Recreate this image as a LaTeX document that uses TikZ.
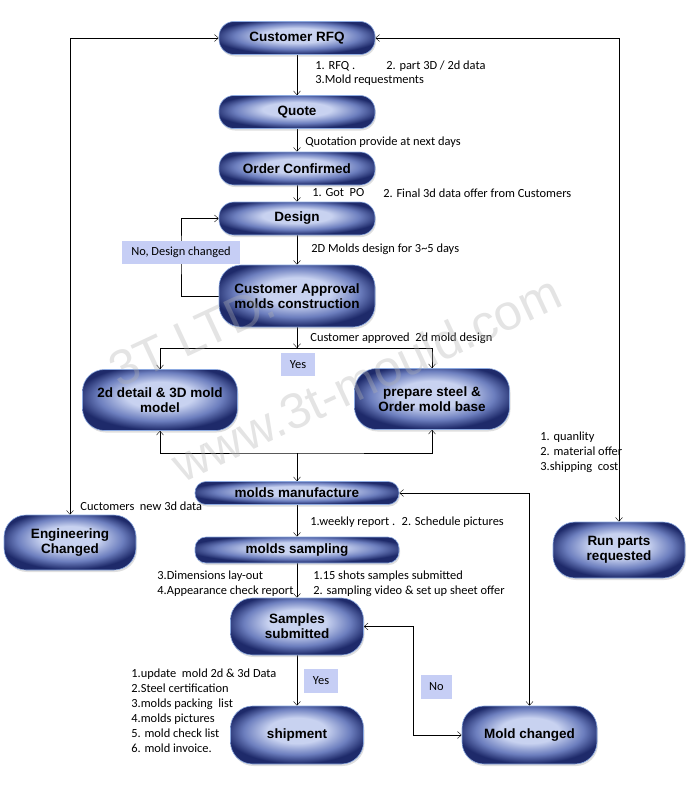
\documentclass[tikz,border=0pt]{standalone}
\usepackage{fontspec}
\setmainfont{Carlito}
\newfontfamily\boxfont{Liberation Sans}
\usepackage{tikz}
\usetikzlibrary{arrows.meta,shadows}
\definecolor{boxlight}{RGB}{200,210,240}
\definecolor{boxmid}{RGB}{108,126,190}
\definecolor{boxdark}{RGB}{30,42,106}
\definecolor{boxrim}{RGB}{140,170,225}
\definecolor{tagfill}{RGB}{198,206,245}
\pgfdeclareradialshading{boxshade}{\pgfpoint{0bp}{5bp}}{color(0bp)=(boxlight); color(11bp)=(boxlight); color(20bp)=(boxmid); color(27bp)=(boxdark); color(50bp)=(boxdark)}
\pgfdeclarelayer{back}
\pgfdeclarelayer{front}
\pgfsetlayers{back,main,front}

\begin{document}
\begin{tikzpicture}[
  x=1pt, y=-1pt, >={Straight Barb[length=4pt,width=7pt]}, line width=0.8pt,
  stage/.style={shade, shading=boxshade, draw=boxrim, line width=0.6pt, align=center, inner sep=0pt,
    drop shadow={shadow xshift=1pt, shadow yshift=-2pt, opacity=0.25},
    font=\boxfont\bfseries\fontsize{13.5}{15}\selectfont},
  pill/.style={stage, minimum width=156pt, minimum height=33pt, rounded corners=15pt},
  block/.style={stage, minimum width=155pt, minimum height=61pt, rounded corners=22pt},
  wide/.style={stage, minimum width=204pt, minimum height=24pt, rounded corners=11pt},
  small/.style={stage, minimum width=133pt, minimum height=57pt, rounded corners=22pt},
  tag/.style={fill=tagfill, inner sep=0pt, minimum height=23pt, font=\fontsize{12.4}{14}\selectfont},
  lbl/.style={anchor=west, inner sep=0pt, align=left, font=\fontsize{12.4}{15}\selectfont},
  wmark/.style={text=gray!60, opacity=0.35, rotate=25, font=\boxfont\fontsize{50}{50}\selectfont}]
  \useasboundingbox (0,0) rectangle (700,785);
  \node[pill] (rfq) at (297,38) {Customer RFQ};
  \node[pill] (quote) at (297,112) {Quote};
  \node[pill] (order) at (297,168.5) {Order Confirmed};
  \node[pill] (design) at (297,218.5) {Design};
  \node[block, minimum width=156pt, minimum height=62pt] (approve) at (297,296) {Customer Approval\\molds construction};
  \node[block] (detail) at (160,400) {2d detail \& 3D mold\\model};
  \node[block] (steel) at (432,399) {prepare steel \&\\Order mold base};
  \node[wide, minimum height=23pt] (manuf) at (297,493) {molds manufacture};
  \node[wide, minimum height=26pt] (sampling) at (297,550) {molds sampling};
  \node[small] (samples) at (297,626.5) {Samples\\submitted};
  \node[small, minimum height=58pt] (ship) at (297,735) {shipment};
  \node[small, minimum width=135pt, minimum height=58pt] (moldchg) at (529.5,735) {Mold changed};
  \node[small, minimum width=132pt, minimum height=55pt] (engchg) at (70,542.5) {Engineering\\Changed};
  \node[small, minimum width=132pt, minimum height=56pt] (runparts) at (619,550) {Run parts\\requested};
  \coordinate (split) at (297,348);
  \coordinate (merge) at (297,453);
  \coordinate (back) at (413,626.5);
  \node[tag, minimum width=118pt] (redesign) at (181,252.5) {No, Design changed};
  \node[tag, minimum width=34pt] (yesa) at (298,364.5) {Yes};
  \node[tag, minimum width=34pt, minimum height=24pt] (yesb) at (321,681) {Yes};
  \node[tag, minimum width=31pt, minimum height=24pt] (nob) at (436.5,687) {No};
  \node[lbl] (rfqa) at (315,66) {1. RFQ .};
  \node[lbl] (rfqb) at (386,66) {2. part 3D / 2d data};
  \node[lbl] (rfqc) at (315,80) {3.Mold requestments};
  \node[lbl] (quotea) at (305,142) {Quotation provide at next days};
  \node[lbl] (ordera) at (312,193) {1. Got~ PO};
  \node[lbl] (orderb) at (383,193) {2. Final 3d data offer from Customers};
  \node[lbl] (designa) at (311,249) {2D Molds design for 3\textasciitilde5 days};
  \node[lbl] (approvea) at (310,338) {Customer approved~ 2d mold design};
  \node[lbl] (runa) at (540,452) {1. quanlity\\2. material offer\\3.shipping~ cost};
  \node[lbl] (enga) at (80,506) {Cuctomers~ new 3d data};
  \node[lbl] (manufa) at (310,522) {1.weekly report .~ 2. Schedule pictures};
  \node[lbl] (samplea) at (157,583.5) {3.Dimensions lay-out\\4.Appearance check report};
  \node[lbl] (sampleb) at (313,583.5) {1.15 shots samples submitted\\2. sampling video \& set up sheet offer};
  \node[lbl] (shipa) at (131,710.5) {1.update~ mold 2d \& 3d Data\\2.Steel certification\\3.molds packing~ list\\4.molds pictures\\5. mold check list\\6. mold invoice.};
  \begin{pgfonlayer}{back}
  \draw[->] (rfq) -- (quote);
  \draw[->] (quote) -- (order);
  \draw[->] (order) -- (design);
  \draw[->] (design) -- (approve);
  \draw[->] (approve.west) -| (redesign.center) |- (design.west);
  \draw[->] (approve) -- (split);
  \draw[->] (split) -| (detail);
  \draw[->] (split) -| (steel);
  \draw[<->] (detail.south) |- (merge) -| (steel.south);
  \draw[->] (merge) -- (manuf);
  \draw[->] (manuf) -- (sampling);
  \draw[->] (sampling) -- (samples);
  \draw[->] (samples) -- (ship);
  \draw[<->] (manuf.east) -| (moldchg.north);
  \draw[<->] (samples.east) -- (back) |- (moldchg.west);
  \draw[<->] (rfq.west) -| (engchg.north);
  \draw[<->] (rfq.east) -| (runparts.north);
  \end{pgfonlayer}
  \begin{pgfonlayer}{front}
  \node[wmark] (wlogo) at (192,336) {3T LTD.};
  \node[wmark] (wsite) at (366,378) {www.3t-mould.com};
  \end{pgfonlayer}
\end{tikzpicture}
\end{document}
